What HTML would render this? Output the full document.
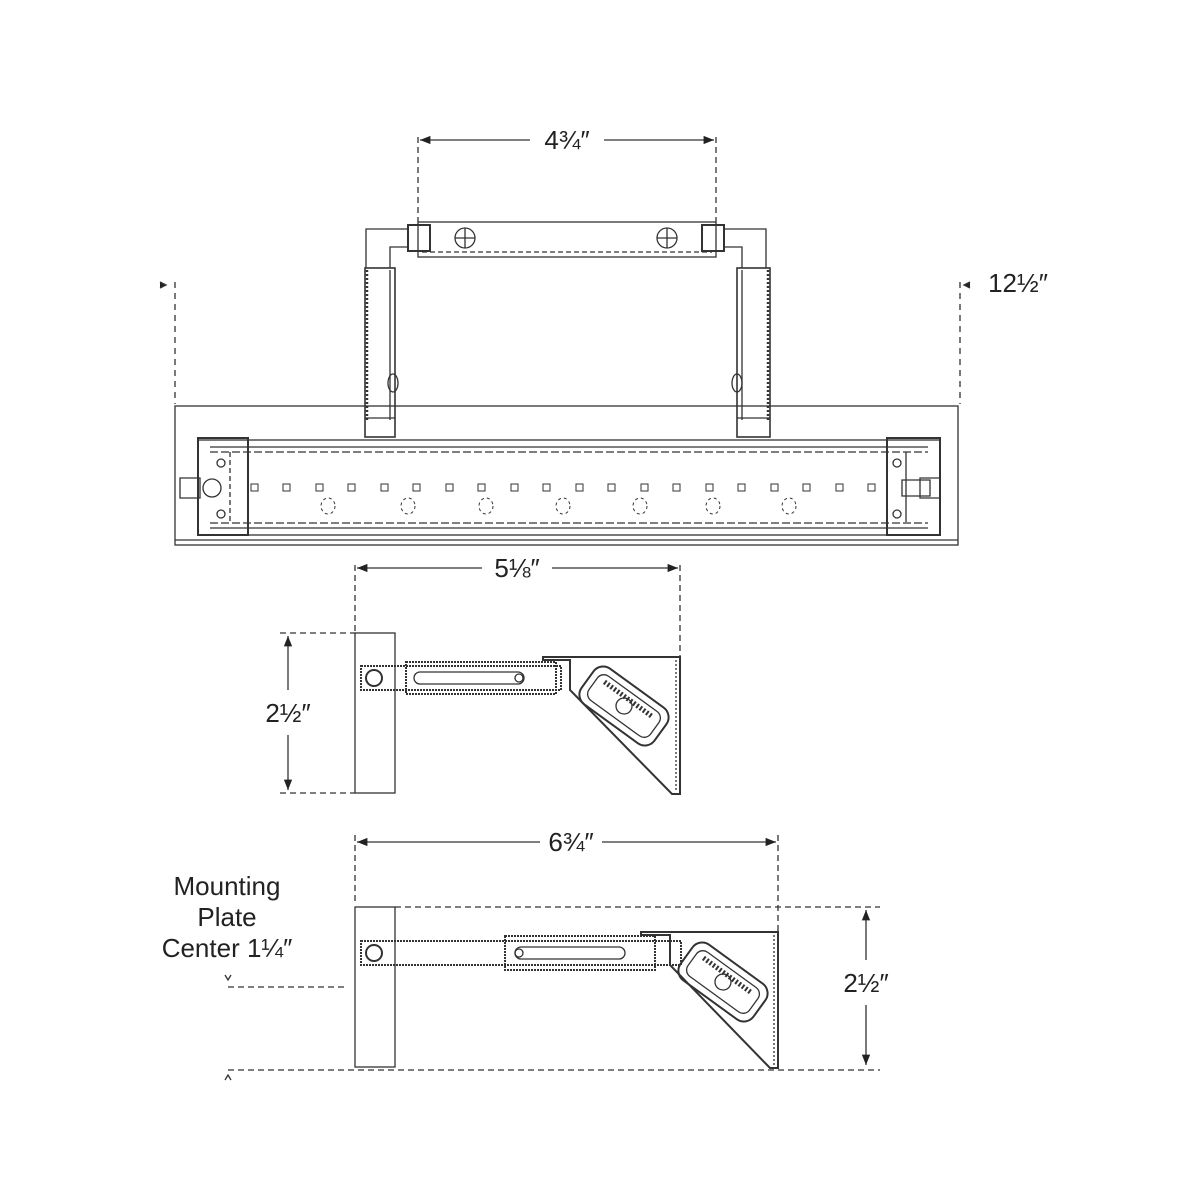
<!DOCTYPE html>
<html><head><meta charset="utf-8"><style>
html,body{margin:0;padding:0;background:#fff}
svg{display:block}
text{font-family:"Liberation Sans",sans-serif;fill:#222}
</style></head><body>
<svg width="1200" height="1200" viewBox="0 0 1200 1200" xmlns="http://www.w3.org/2000/svg">
<defs>
<marker id="a" viewBox="0 0 10 10" refX="10" refY="5" markerWidth="10" markerHeight="8" orient="auto-start-reverse"><path d="M0,1 L10,5 L0,9 Z" fill="#222"/></marker>
</defs>
<g stroke="#333" fill="none" stroke-width="1.3">
<!-- 4 3/4 dim -->
<line x1="418" y1="137" x2="418" y2="222" stroke-dasharray="6,4"/>
<line x1="716" y1="137" x2="716" y2="222" stroke-dasharray="6,4"/>
<line x1="420" y1="140" x2="530" y2="140" marker-start="url(#a)"/>
<line x1="604" y1="140" x2="714" y2="140" marker-end="url(#a)"/>
<!-- plate -->
<rect x="418" y="222" width="298" height="35"/>
<line x1="422" y1="252" x2="712" y2="252" stroke-dasharray="5,3"/>
<circle cx="465" cy="238" r="10"/><line x1="455" y1="238" x2="475" y2="238"/><line x1="465" y1="228" x2="465" y2="248"/>
<circle cx="667" cy="238" r="10"/><line x1="657" y1="238" x2="677" y2="238"/><line x1="667" y1="228" x2="667" y2="248"/>
<rect x="408" y="225" width="22" height="26" stroke-width="2"/>
<rect x="702" y="225" width="22" height="26" stroke-width="2"/>
<!-- arms -->
<path d="M408 229 H366 V268 M408 247 H390 V268"/>
<path d="M724 229 H766 V268 M724 247 H742 V268"/>
<rect x="365" y="268" width="30" height="169" stroke-width="1.6"/>
<line x1="367" y1="270" x2="367" y2="420" stroke-width="2.5" stroke-dasharray="2,2"/>
<line x1="390" y1="270" x2="390" y2="420"/>
<line x1="365" y1="418" x2="395" y2="418"/>
<rect x="737" y="268" width="33" height="169" stroke-width="1.6"/>
<line x1="768" y1="270" x2="768" y2="420" stroke-width="2.5" stroke-dasharray="2,2"/>
<line x1="742" y1="270" x2="742" y2="420"/>
<line x1="737" y1="418" x2="770" y2="418"/>
<ellipse cx="393" cy="383" rx="5" ry="9"/><ellipse cx="737" cy="383" rx="5" ry="9"/>
<!-- 12 1/2 -->
<line x1="175" y1="282" x2="175" y2="404" stroke-dasharray="6,5"/>
<line x1="960" y1="282" x2="960" y2="404" stroke-dasharray="6,5"/>
<path d="M160 282 l6 3 l-6 3" fill="#222"/>
<path d="M970 282 l-6 3 l6 3" fill="#222"/>
<!-- body -->
<rect x="175" y="406" width="783" height="139"/>
<line x1="175" y1="540" x2="958" y2="540"/>
<rect x="198" y="440" width="742" height="95"/>
<line x1="210" y1="447" x2="928" y2="447"/>
<line x1="210" y1="452" x2="928" y2="452" stroke-dasharray="8,3"/>
<line x1="210" y1="528" x2="928" y2="528"/>
<line x1="210" y1="523" x2="928" y2="523" stroke-dasharray="8,3"/>
<rect x="198" y="438" width="50" height="97" stroke-width="2"/>
<rect x="887" y="438" width="53" height="97" stroke-width="2"/>
<line x1="230" y1="452" x2="230" y2="522" stroke-dasharray="5,3"/>
<line x1="906" y1="452" x2="906" y2="522"/>
<circle cx="221" cy="463" r="4"/><circle cx="221" cy="514" r="4"/>
<circle cx="897" cy="463" r="4"/><circle cx="897" cy="514" r="4"/>
<path d="M180 478 h20 v20 h-20 z"/><circle cx="212" cy="488" r="9"/>
<path d="M940 478 h-20 v20 h20 z"/><path d="M902 480 h28 v16 h-28 z"/>
</g>
<g fill="none" stroke="#333" stroke-width="1">
<rect x="251" y="484" width="7" height="7"/><rect x="283" y="484" width="7" height="7"/><rect x="316" y="484" width="7" height="7"/><rect x="348" y="484" width="7" height="7"/><rect x="381" y="484" width="7" height="7"/><rect x="413" y="484" width="7" height="7"/><rect x="446" y="484" width="7" height="7"/><rect x="478" y="484" width="7" height="7"/><rect x="511" y="484" width="7" height="7"/><rect x="543" y="484" width="7" height="7"/><rect x="576" y="484" width="7" height="7"/><rect x="608" y="484" width="7" height="7"/><rect x="641" y="484" width="7" height="7"/><rect x="673" y="484" width="7" height="7"/><rect x="706" y="484" width="7" height="7"/><rect x="738" y="484" width="7" height="7"/><rect x="771" y="484" width="7" height="7"/><rect x="803" y="484" width="7" height="7"/><rect x="836" y="484" width="7" height="7"/><rect x="868" y="484" width="7" height="7"/>
<g stroke-dasharray="3,3"><ellipse cx="328" cy="506" rx="7" ry="8"/><ellipse cx="408" cy="506" rx="7" ry="8"/><ellipse cx="486" cy="506" rx="7" ry="8"/><ellipse cx="563" cy="506" rx="7" ry="8"/><ellipse cx="640" cy="506" rx="7" ry="8"/><ellipse cx="713" cy="506" rx="7" ry="8"/><ellipse cx="789" cy="506" rx="7" ry="8"/></g>
</g>
<g stroke="#333" fill="none" stroke-width="1.3">
<!-- 5 1/8 -->
<line x1="355" y1="565" x2="355" y2="633" stroke-dasharray="6,4"/>
<line x1="680" y1="565" x2="680" y2="656" stroke-dasharray="6,4"/>
<line x1="357" y1="568" x2="482" y2="568" marker-start="url(#a)"/>
<line x1="552" y1="568" x2="678" y2="568" marker-end="url(#a)"/>
<!-- side view 1 -->
<rect x="355" y="633" width="40" height="160"/>
<line x1="280" y1="633" x2="355" y2="633" stroke-dasharray="6,4"/>
<line x1="280" y1="793" x2="355" y2="793" stroke-dasharray="6,4"/>
<line x1="288" y1="636" x2="288" y2="690" marker-start="url(#a)"/>
<line x1="288" y1="735" x2="288" y2="790" marker-end="url(#a)"/>
<rect x="361" y="666" width="200" height="24" stroke-width="2" stroke-dasharray="2,1"/>
<rect x="406" y="662" width="150" height="32" stroke-width="2" stroke-dasharray="2,1"/>
<circle cx="374" cy="678" r="8" stroke-width="2"/>
<rect x="414" y="672" width="110" height="12" rx="6"/>
<circle cx="519" cy="678" r="4"/>
<path d="M543 660 L543 657 L680 657 L680 794 L672 794 L570 690 L570 660 Z" stroke-width="2"/>
<line x1="676" y1="660" x2="676" y2="792" stroke-dasharray="2,2"/>
<g transform="translate(624 706) rotate(36)"><rect x="-45" y="-22" width="90" height="44" rx="12" stroke-width="2"/><rect x="-38" y="-15" width="76" height="30" rx="8"/><line x1="-30" y1="-8" x2="30" y2="-8" stroke-width="5" stroke-dasharray="2,2"/><circle cx="0" cy="0" r="8"/></g>
<!-- 6 3/4 -->
<line x1="355" y1="835" x2="355" y2="905" stroke-dasharray="6,4"/>
<line x1="778" y1="835" x2="778" y2="932" stroke-dasharray="6,4"/>
<line x1="357" y1="842" x2="540" y2="842" marker-start="url(#a)"/>
<line x1="602" y1="842" x2="776" y2="842" marker-end="url(#a)"/>
<!-- side view 2 -->
<rect x="355" y="907" width="40" height="160"/>
<line x1="395" y1="907" x2="880" y2="907" stroke-dasharray="6,4"/>
<line x1="228" y1="1070" x2="880" y2="1070" stroke-dasharray="6,4"/>
<line x1="228" y1="987" x2="348" y2="987" stroke-dasharray="6,4"/>
<path d="M225 975 l3 5 l3 -5 M225 1080 l3 -5 l3 5"/>
<line x1="866" y1="910" x2="866" y2="960" marker-start="url(#a)"/>
<line x1="866" y1="1005" x2="866" y2="1065" marker-end="url(#a)"/>
<rect x="361" y="941" width="320" height="24" stroke-width="2" stroke-dasharray="2,1"/>
<rect x="505" y="936" width="150" height="34" stroke-width="2" stroke-dasharray="2,1"/>
<circle cx="374" cy="953" r="8" stroke-width="2"/>
<rect x="515" y="947" width="110" height="12" rx="6"/>
<circle cx="519" cy="953" r="4"/>
<path d="M641 935 L641 932 L778 932 L778 1068 L770 1068 L670 965 L670 935 Z" stroke-width="2"/>
<line x1="774" y1="935" x2="774" y2="1066" stroke-dasharray="2,2"/>
<g transform="translate(723 982) rotate(36)"><rect x="-45" y="-22" width="90" height="44" rx="12" stroke-width="2"/><rect x="-38" y="-15" width="76" height="30" rx="8"/><line x1="-30" y1="-8" x2="30" y2="-8" stroke-width="5" stroke-dasharray="2,2"/><circle cx="0" cy="0" r="8"/></g>
</g>
<g font-size="26" text-anchor="middle">
<text x="567" y="149">4¾″</text>
<text x="1018" y="292">12½″</text>
<text x="517" y="577">5⅛″</text>
<text x="288" y="722" style="paint-order:stroke" stroke="#fff" stroke-width="8">2½″</text>
<text x="571" y="851">6¾″</text>
<text x="866" y="992" style="paint-order:stroke" stroke="#fff" stroke-width="8">2½″</text>
<text x="227" y="895">Mounting</text>
<text x="227" y="926">Plate</text>
<text x="227" y="957">Center 1¼″</text>
</g>
</svg>
</body></html>
